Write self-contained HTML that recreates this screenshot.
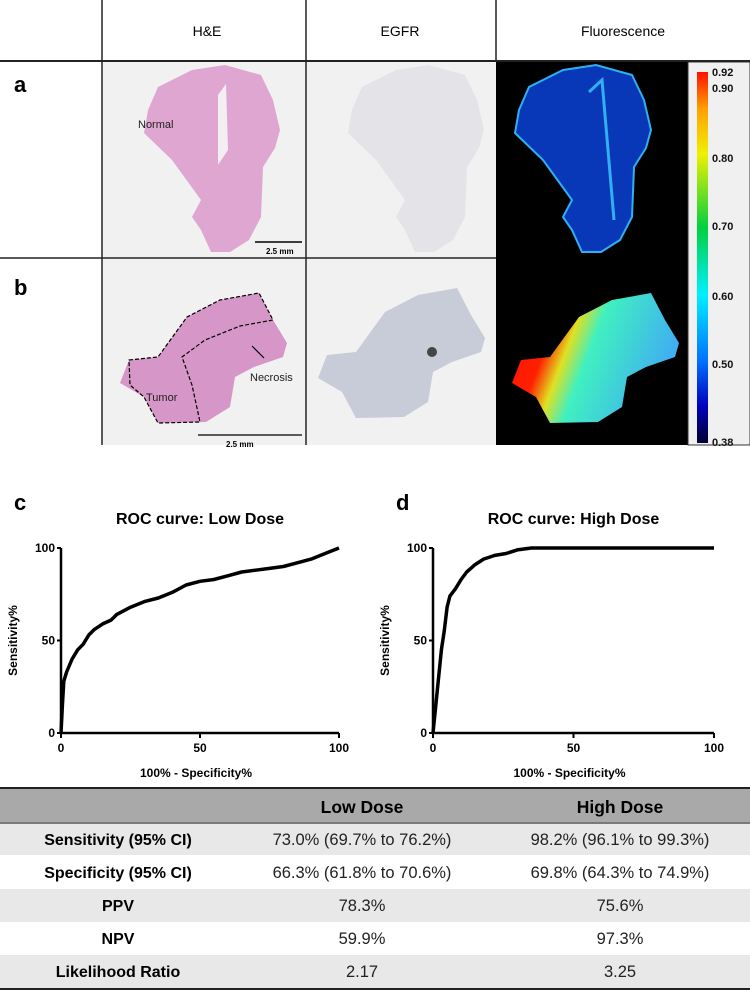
<!DOCTYPE html>
<html><head><meta charset="utf-8"><style>
body{margin:0;background:#fff;width:750px;height:995px;overflow:hidden;font-family:"Liberation Sans",Arial,sans-serif}
svg{display:block}
</style></head><body>
<svg width="750" height="995" viewBox="0 0 750 995">
<defs>
<linearGradient id="cbar" x1="0" y1="1" x2="0" y2="0">
<stop offset="0" stop-color="#000030"/><stop offset="0.1" stop-color="#0000c0"/><stop offset="0.22" stop-color="#0070ff"/><stop offset="0.4" stop-color="#00f0ff"/><stop offset="0.58" stop-color="#00d040"/><stop offset="0.78" stop-color="#f0f000"/><stop offset="0.9" stop-color="#ffa000"/><stop offset="1" stop-color="#ff1000"/>
</linearGradient>
<linearGradient id="fluorB" x1="0" y1="0" x2="1" y2="0.3">
<stop offset="0" stop-color="#ff1000"/><stop offset="0.3" stop-color="#ff2000"/><stop offset="0.42" stop-color="#e0e020"/><stop offset="0.55" stop-color="#40f0c0"/><stop offset="1" stop-color="#40b0f0"/>
</linearGradient>
</defs>
<g>
<rect x="103" y="62" width="203" height="196" fill="#f1f1f1"/>
<rect x="307" y="62" width="189" height="196" fill="#f1f1f1"/>
<rect x="103" y="259" width="203" height="186" fill="#f1f1f1"/>
<rect x="307" y="259" width="189" height="186" fill="#f1f1f1"/>
<rect x="496" y="62" width="193" height="383" fill="#000"/>
<rect x="688" y="62" width="62" height="383" fill="#f0f0f0" stroke="#333" stroke-width="1"/>
<line x1="102" y1="0" x2="102" y2="445" stroke="#222" stroke-width="1.5"/>
<line x1="306" y1="0" x2="306" y2="445" stroke="#222" stroke-width="1.5"/>
<line x1="496" y1="0" x2="496" y2="62" stroke="#222" stroke-width="1.5"/>
<line x1="0" y1="61" x2="750" y2="61" stroke="#222" stroke-width="2"/>
<line x1="0" y1="258" x2="496" y2="258" stroke="#222" stroke-width="1.5"/>
<text x="207" y="36" font-size="14" text-anchor="middle">H&amp;E</text>
<text x="400" y="36" font-size="14" text-anchor="middle">EGFR</text>
<text x="623" y="36" font-size="14" text-anchor="middle">Fluorescence</text>
<text x="14" y="92" font-size="22" font-weight="bold">a</text>
<text x="14" y="295" font-size="22" font-weight="bold">b</text>
</g>
<g>
<path d="M148,110 L158,87 L192,70 L225,65 L261,75 L273,100 L280,130 L275,148 L263,167 L261,217 L249,240 L230,252 L211,252 L201,230 L192,217 L201,200 L172,160 L144,133 Z" fill="#e0a6d2"/>
<path d="M218,95 L226,84 L228,150 L218,165 Z" fill="#f4eef2"/>
<path transform="translate(204,0)" d="M148,110 L158,87 L192,70 L225,65 L261,75 L273,100 L280,130 L275,148 L263,167 L261,217 L249,240 L230,252 L211,252 L201,230 L192,217 L201,200 L172,160 L144,133 Z" fill="#e4e4e8"/>
<path transform="translate(371,0)" d="M148,110 L158,87 L192,70 L225,65 L261,75 L273,100 L280,130 L275,148 L263,167 L261,217 L249,240 L230,252 L211,252 L201,230 L192,217 L201,200 L172,160 L144,133 Z" fill="#0838b8" stroke="#30b0f0" stroke-width="2"/>
<path d="M589,92 L602,80 L614,220" stroke="#30b0f0" stroke-width="3" fill="none"/>
<text x="138" y="128" font-size="11" fill="#222">Normal</text>
<line x1="255" y1="242" x2="302" y2="242" stroke="#000" stroke-width="1.5"/>
<text x="266" y="254" font-size="8" font-weight="bold">2.5 mm</text>
<path d="M129,360 L158,357 L187,317 L220,300 L259,293 L273,320 L287,343 L283,357 L254,367 L235,377 L230,407 L206,422 L158,423 L144,397 L120,383 Z" fill="#d796c8"/>
<path d="M129,360 L158,357 L187,317 L220,300 L259,293 L273,320 L240,326 L205,340 L182,357 L192,385 L200,422 L158,423 L144,397 L130,385 Z" fill="none" stroke="#000" stroke-width="1.2" stroke-dasharray="4,2"/>
<line x1="264" y1="358" x2="252" y2="346" stroke="#000" stroke-width="1.2"/>
<text x="146" y="401" font-size="11" fill="#222">Tumor</text>
<text x="250" y="381" font-size="11" fill="#222">Necrosis</text>
<line x1="198" y1="435" x2="302" y2="435" stroke="#000" stroke-width="1.2"/>
<text x="226" y="447" font-size="8" font-weight="bold">2.5 mm</text>
<path transform="translate(198,-5)" d="M129,360 L158,357 L187,317 L220,300 L259,293 L273,320 L287,343 L283,357 L254,367 L235,377 L230,407 L206,422 L158,423 L144,397 L120,383 Z" fill="#c8ccd8"/>
<circle cx="432" cy="352" r="5" fill="#444"/>
<path transform="translate(392,0)" d="M129,360 L158,357 L187,317 L220,300 L259,293 L273,320 L287,343 L283,357 L254,367 L235,377 L230,407 L206,422 L158,423 L144,397 L120,383 Z" fill="url(#fluorB)"/>
<rect x="697" y="72" width="11" height="371" fill="url(#cbar)"/>
<g font-size="11" font-weight="bold" fill="#111">
<text x="712" y="76">0.92</text><text x="712" y="92">0.90</text><text x="712" y="162">0.80</text><text x="712" y="230">0.70</text><text x="712" y="300">0.60</text><text x="712" y="368">0.50</text><text x="712" y="446">0.38</text>
</g>
</g>
<text x="14" y="510" font-size="22" font-weight="bold">c</text>
<text x="396" y="510" font-size="22" font-weight="bold">d</text>
<g id="charts"></g>
<g font-size="16.5">
<rect x="0" y="789" width="750" height="33" fill="#a9a9a9"/>
<rect x="0" y="822" width="750" height="33" fill="#e8e8e8"/>
<rect x="0" y="889" width="750" height="33" fill="#e8e8e8"/>
<rect x="0" y="955" width="750" height="33" fill="#e8e8e8"/>
<line x1="0" y1="788" x2="750" y2="788" stroke="#222" stroke-width="2"/>
<line x1="0" y1="823" x2="750" y2="823" stroke="#555" stroke-width="1.5"/>
<line x1="0" y1="989" x2="750" y2="989" stroke="#222" stroke-width="2"/>
<text x="362" y="813" font-size="17.5" font-weight="bold" text-anchor="middle">Low Dose</text>
<text x="620" y="813" font-size="17.5" font-weight="bold" text-anchor="middle">High Dose</text>
<g font-weight="bold" text-anchor="middle" font-size="16">
<text x="118" y="845">Sensitivity (95% CI)</text><text x="118" y="878">Specificity (95% CI)</text><text x="118" y="911">PPV</text><text x="118" y="944">NPV</text><text x="118" y="977">Likelihood Ratio</text>
</g>
<g text-anchor="middle" fill="#222">
<text x="362" y="845">73.0% (69.7% to 76.2%)</text><text x="362" y="878">66.3% (61.8% to 70.6%)</text><text x="362" y="911">78.3%</text><text x="362" y="944">59.9%</text><text x="362" y="977">2.17</text>
<text x="620" y="845">98.2% (96.1% to 99.3%)</text><text x="620" y="878">69.8% (64.3% to 74.9%)</text><text x="620" y="911">75.6%</text><text x="620" y="944">97.3%</text><text x="620" y="977">3.25</text>
</g>
</g>
</svg>
<script>
const lowX=[0,0.5,1,2,4,6,8,10,12,15,18,20,25,30,35,40,45,50,55,60,65,70,75,80,85,90,95,100];
const lowY=[0,15,28,33,40,45,48,53,56,59,61,64,68,71,73,76,80,82,83,85,87,88,89,90,92,94,97,100];
const highX=[0,1,2,3,4,5,6,8,10,12,15,18,22,26,30,35,50,70,100];
const highY=[0,15,30,45,55,68,74,78,83,87,91,94,96,97,99,100,100,100,100];
const yTicks=[0,50,100];
const xTicks=[0,50,100];
const titles=["ROC curve: Low Dose","ROC curve: High Dose"];
const NS="http://www.w3.org/2000/svg";
const g=document.getElementById('charts');
function mk(t,a,p){const e=document.createElementNS(NS,t);for(const k in a)e.setAttribute(k,a[k]);(p||g).appendChild(e);return e;}
function chart(x0,x1,xs,ys,title,nm){
  const y0=733,y1=548;
  const sx=v=>x0+(x1-x0)*v/100, sy=v=>y0-(y0-y1)*v/100;
  const c=mk('g',{});
  
  
  const t=mk('text',{x:(x0+x1)/2,y:524,'font-size':16,'font-weight':'bold','text-anchor':'middle'},c);t.textContent=title;
  
  
  mk('line',{x1:x0,y1:y0,x2:x0,y2:y1,stroke:'#000','stroke-width':2.5},c);
  mk('line',{x1:x0,y1:y0,x2:x1,y2:y0,stroke:'#000','stroke-width':2.5},c);
  yTicks.forEach(v=>{mk('line',{x1:x0-4,y1:sy(v),x2:x0,y2:sy(v),stroke:'#000','stroke-width':2},c);
    const l=mk('text',{x:x0-6,y:sy(v)+4,'font-size':12,'font-weight':'bold','text-anchor':'end'},c);l.textContent=v;
    
    });
  xTicks.forEach(v=>{mk('line',{x1:sx(v),y1:y0,x2:sx(v),y2:y0+5,stroke:'#000','stroke-width':2},c);
    const l=mk('text',{x:sx(v),y:y0+19,'font-size':12,'font-weight':'bold','text-anchor':'middle'},c);l.textContent=v;
    
    });
  const yl=mk('text',{x:0,y:0,'font-size':12,'font-weight':'bold','text-anchor':'middle',transform:`translate(${x0-44},${(y0+y1)/2}) rotate(-90)`},c);yl.textContent='Sensitivity%';
  
  
  const xl=mk('text',{x:(x0+x1)/2-4,y:777,'font-size':12,'font-weight':'bold','text-anchor':'middle'},c);xl.textContent='100% - Specificity%';
  
  
  const d=xs.map((v,i)=>(i?'L':'M')+sx(v).toFixed(1)+','+sy(ys[i]).toFixed(1)).join(' ');
  const p=mk('path',{d:d,fill:'none',stroke:'#000','stroke-width':3.5,'stroke-linejoin':'round'},c);
  
  
}
chart(61,339,lowX,lowY,titles[0],'roc-low-dose-chart');
chart(433,714,highX,highY,titles[1],'roc-high-dose-chart');
</script>
</body></html>
